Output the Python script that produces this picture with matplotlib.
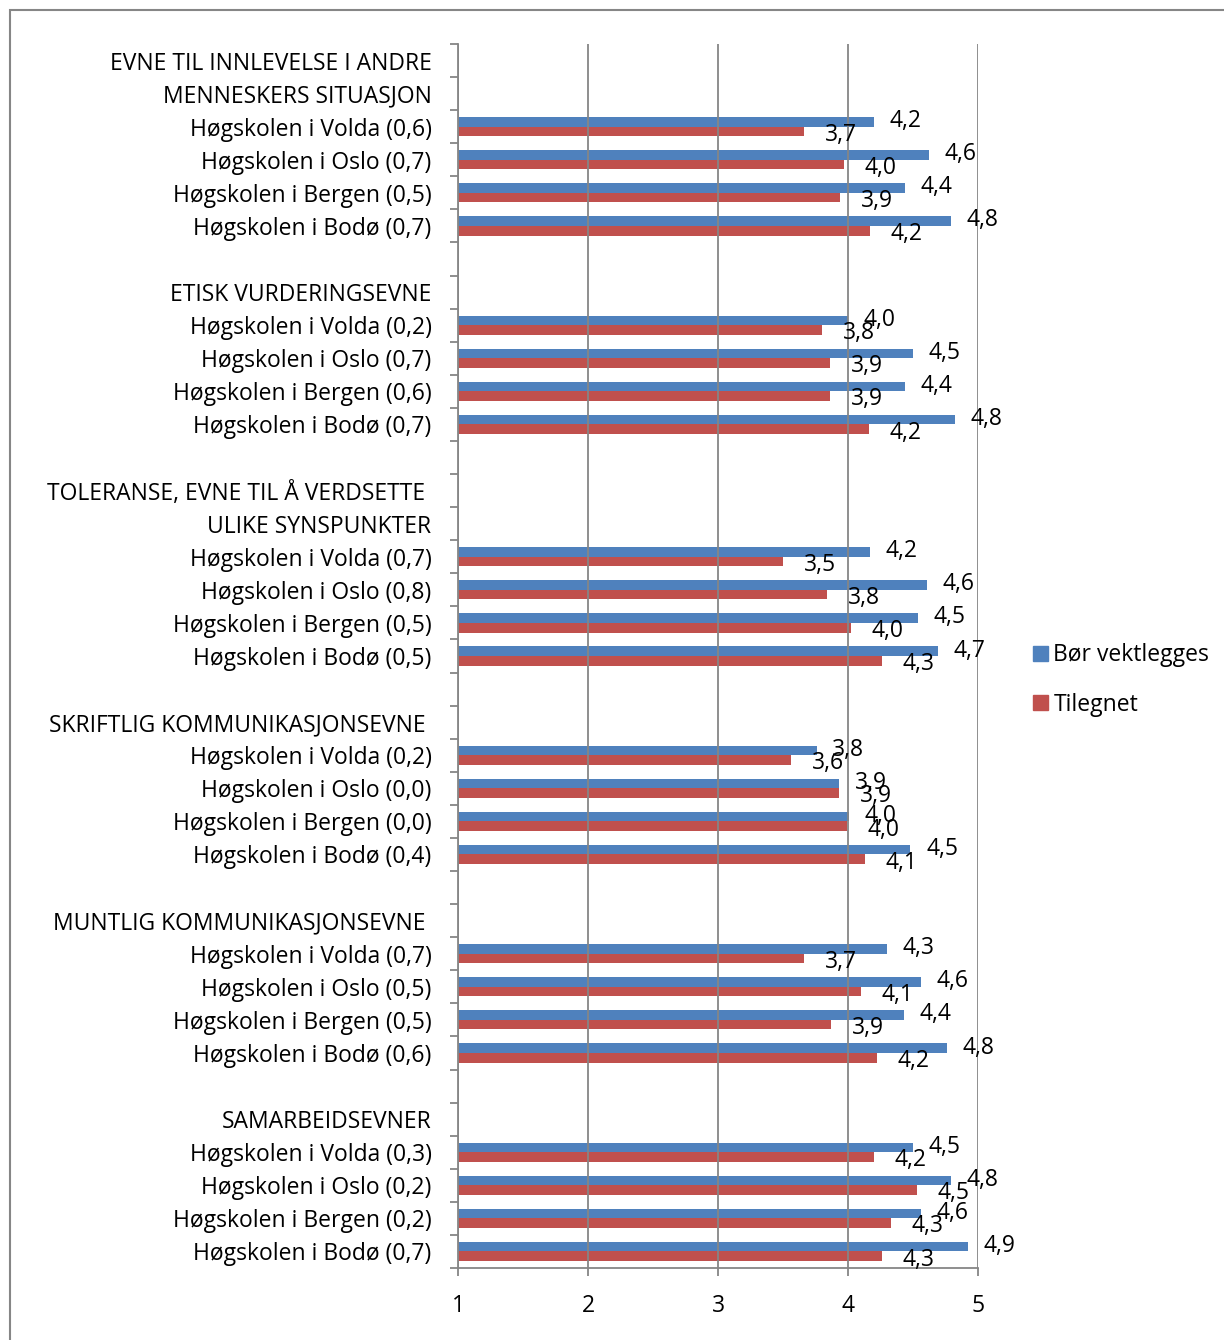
import matplotlib
matplotlib.use("Agg")
import matplotlib.pyplot as plt
from matplotlib.patches import Patch, Rectangle
import numpy as np

plt.rcParams["font.family"] = ["Open Sans", "DejaVu Sans"]

# group headers (one entry per label line) and school labels per group
headers = [
    ["EVNE TIL INNLEVELSE I ANDRE", "MENNESKERS SITUASJON"],
    ["ETISK VURDERINGSEVNE"],
    ["TOLERANSE, EVNE TIL Å VERDSETTE ", "ULIKE SYNSPUNKTER"],
    ["SKRIFTLIG KOMMUNIKASJONSEVNE "],
    ["MUNTLIG KOMMUNIKASJONSEVNE "],
    ["SAMARBEIDSEVNER"],
]
schools = ["Høgskolen i Volda", "Høgskolen i Oslo", "Høgskolen i Bergen", "Høgskolen i Bodø"]
diffs = [
    ["0,6", "0,7", "0,5", "0,7"],
    ["0,2", "0,7", "0,6", "0,7"],
    ["0,7", "0,8", "0,5", "0,5"],
    ["0,2", "0,0", "0,0", "0,4"],
    ["0,7", "0,5", "0,5", "0,6"],
    ["0,3", "0,2", "0,2", "0,7"],
]
bor_vektlegges = [
    [4.20, 4.62, 4.44, 4.79],
    [4.00, 4.50, 4.44, 4.82],
    [4.17, 4.61, 4.54, 4.69],
    [3.76, 3.93, 4.01, 4.48],
    [4.30, 4.56, 4.43, 4.76],
    [4.50, 4.79, 4.56, 4.92],
]
tilegnet = [
    [3.66, 3.97, 3.94, 4.17],
    [3.80, 3.86, 3.86, 4.16],
    [3.50, 3.84, 4.02, 4.26],
    [3.56, 3.93, 3.99, 4.13],
    [3.66, 4.10, 3.87, 4.22],
    [4.20, 4.53, 4.33, 4.26],
]

BLUE = "#4F81BD"
RED = "#C0504D"
GRID = "#868686"

# build the category rows: blank spacer, header line(s), then the four schools
labels, blue_vals, red_vals = [], [], []
for g, head in enumerate(headers):
    if g > 0:
        labels.append("")
        blue_vals.append(np.nan)
        red_vals.append(np.nan)
    for line in head:
        labels.append(line)
        blue_vals.append(np.nan)
        red_vals.append(np.nan)
    for s, school in enumerate(schools):
        labels.append(f"{school} ({diffs[g][s]})")
        blue_vals.append(bor_vektlegges[g][s])
        red_vals.append(tilegnet[g][s])

n = len(labels)
y = np.arange(n)
bar_h = 0.29

fig = plt.figure(figsize=(12.24, 13.40), dpi=100)
ax = fig.add_axes([458 / 1224, 1 - 1268 / 1340, 520 / 1224, 1224 / 1340])

blue_arr = np.array(blue_vals)
red_arr = np.array(red_vals)
ok = ~np.isnan(blue_arr)
ax.barh(y[ok] - bar_h / 2, blue_arr[ok] - 1, left=1, height=bar_h, color=BLUE, zorder=1)
ax.barh(y[ok] + bar_h / 2, red_arr[ok] - 1, left=1, height=bar_h, color=RED, zorder=1)

fs = 16.5
for yi, bv, rv in zip(y[ok], blue_arr[ok], red_arr[ok]):
    ax.text(bv + 0.12, yi - bar_h / 2 - 0.02, f"{bv:.1f}".replace(".", ","),
            ha="left", va="center", fontsize=fs, zorder=3)
    ax.text(rv + 0.16, yi + bar_h / 2 + 0.1, f"{rv:.1f}".replace(".", ","),
            ha="left", va="center", fontsize=fs, zorder=3)

ax.set_xlim(1, 5)
ax.set_ylim(n - 0.5, -0.5)
ax.set_xticks([1, 2, 3, 4, 5])
ax.set_xticklabels(["1", "2", "3", "4", "5"], fontsize=fs)
ax.xaxis.grid(True, color=GRID, linewidth=1.3, zorder=2)
ax.set_axisbelow(False)

# category ticks at slot boundaries, labels at slot centres
ax.set_yticks(np.arange(n + 1) - 0.5)
ax.set_yticklabels([])
ax.set_yticks(y, minor=True)
ax.set_yticklabels(labels, minor=True, fontsize=fs)
ax.tick_params(axis="y", which="minor", length=0, pad=19)
ax.tick_params(axis="y", which="major", length=6, width=1.3, color=GRID)
ax.tick_params(axis="x", length=6, width=1.3, color=GRID, pad=13)

for side in ["top", "right"]:
    ax.spines[side].set_visible(False)
for side in ["left", "bottom"]:
    ax.spines[side].set_color(GRID)
    ax.spines[side].set_linewidth(1.3)

handles = [Patch(color=BLUE), Patch(color=RED)]
fig.legend(handles, ["Bør vektlegges", "Tilegnet"], loc="center left",
           bbox_to_anchor=(1012 / 1224, 1 - 680 / 1340), frameon=False,
           fontsize=fs, handlelength=0.65, handleheight=0.65,
           handletextpad=0.25, labelspacing=1.1)

# outer chart border
fig.patches.append(Rectangle((10 / 1224, -0.05), 1.1, 1 - 10 / 1340 + 0.05,
                             transform=fig.transFigure, fill=False,
                             edgecolor=GRID, linewidth=1.5))

fig.savefig("out.png", dpi=100)
